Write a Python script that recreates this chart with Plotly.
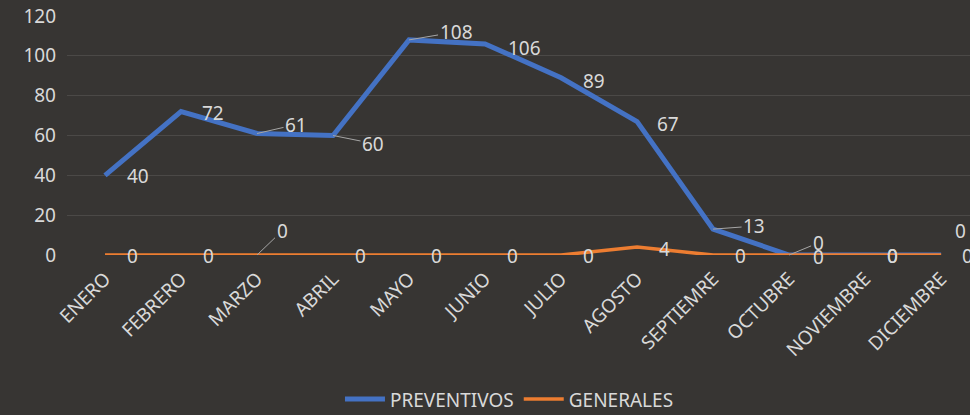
import plotly.graph_objects as go

months = ["ENERO", "FEBRERO", "MARZO", "ABRIL", "MAYO", "JUNIO", "JULIO",
          "AGOSTO", "SEPTIEMRE", "OCTUBRE", "NOVIEMBRE", "DICIEMBRE"]
preventivos = [40, 72, 61, 60, 108, 106, 89, 67, 13, 0, 0, 0]
generales = [0, 0, 0, 0, 0, 0, 0, 4, 0, 0, 0, 0]

# label offsets in pixels (dx, dy_down, leader)
prev_off = [(33, 1, False), (32, 1, False), (39, -9, True), (40, 8, True),
            (47, -8, True), (39, 4, False), (33, 3, False), (31, 2, False),
            (41, -3, True), (29, -12, True), (27, 1, False), (19, -24, False)]
gen_off = [(27, 1, False), (27, 1, False), (25, -24, True), (27, 1, False),
           (27, 1, False), (27, 1, False), (27, 1, False), (27, 2, False),
           (27, 1, False), (29, 2, False), (27, 1, False), (26, 1, False)]

BG = "#373533"
TXT = "#d9d9d9"
GRID = "#4b4947"
FONT = "Noto Sans"
FS = 19
BLUE = "#4472C4"
ORANGE = "#ED7D31"

fig = go.Figure()
fig.add_trace(go.Scatter(x=months, y=preventivos, mode="lines", name="PREVENTIVOS",
                         line=dict(color=BLUE, width=5), cliponaxis=False))
fig.add_trace(go.Scatter(x=months, y=generales, mode="lines", name="GENERALES",
                         line=dict(color=ORANGE, width=3.5), cliponaxis=False))

annots = []
for series, offs in ((preventivos, prev_off), (generales, gen_off)):
    for m, v, (dx, dy, lead) in zip(months, series, offs):
        if lead:
            annots.append(dict(x=m, y=v, text=str(v), showarrow=True, ax=dx, ay=dy,
                               arrowhead=0, arrowwidth=1, arrowcolor="#a6a6a6",
                               standoff=0, font=dict(family=FONT, size=FS, color=TXT)))
        else:
            annots.append(dict(x=m, y=v, text=str(v), showarrow=False,
                               xshift=dx, yshift=-dy,
                               font=dict(family=FONT, size=FS, color=TXT)))

fig.update_layout(
    width=970, height=415,
    paper_bgcolor=BG, plot_bgcolor=BG,
    margin=dict(l=67, r=0, t=16, b=160, autoexpand=False),
    font=dict(family=FONT, color=TXT, size=FS),
    annotations=annots,
    showlegend=True,
    legend=dict(orientation="h", x=0.49, xanchor="center",
                yref="container", y=0.038, yanchor="middle",
                font=dict(family=FONT, size=FS, color=TXT), bgcolor="rgba(0,0,0,0)",
                itemwidth=40, tracegroupgap=0),
    xaxis=dict(range=[-0.5, 11.38], showgrid=False, zeroline=False, showline=False,
               tickangle=-45, tickfont=dict(family=FONT, size=FS, color=TXT),
               ticks="", ticklabelstandoff=8, automargin=False),
    yaxis=dict(range=[0, 120], tickvals=[0, 20, 40, 60, 80, 100, 120],
               showgrid=True, gridcolor=GRID, gridwidth=1, zeroline=False, showline=False,
               tickfont=dict(family=FONT, size=FS, color=TXT), ticks="",
               ticklabelstandoff=10, automargin=False),
)

fig.write_html("out.html", config={"displayModeBar": False},
               post_script="document.body.style.margin='0';document.body.style.background='%s';" % BG)
